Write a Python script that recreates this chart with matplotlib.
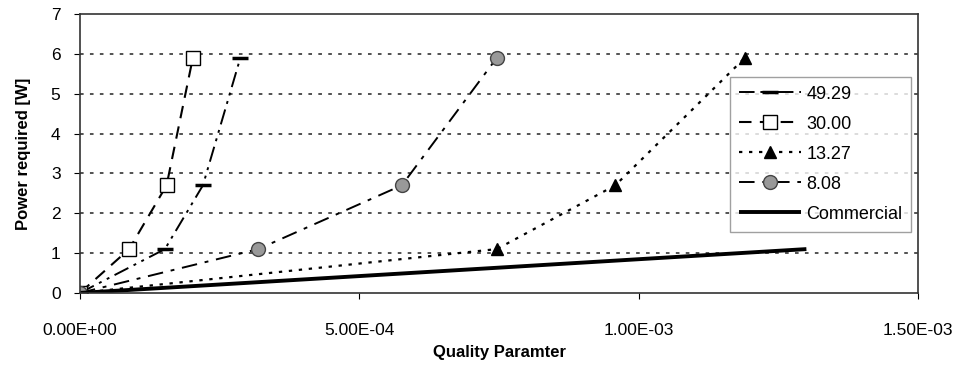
import matplotlib.pyplot as plt

plt.rcParams['font.family'] = ['Liberation Sans', 'DejaVu Sans']

# power curves for each quality setting (x: quality parameter, y: watts)
x_4929 = [0.0, 1.52e-4, 2.20e-4, 2.87e-4]
y_4929 = [0.0, 1.1, 2.7, 5.9]

x_3000 = [0.0, 8.8e-5, 1.55e-4, 2.02e-4]
y_3000 = [0.0, 1.1, 2.7, 5.9]

x_1327 = [0.0, 7.46e-4, 9.58e-4, 1.19e-3]
y_1327 = [0.0, 1.1, 2.7, 5.9]

x_808 = [0.0, 3.19e-4, 5.76e-4, 7.46e-4]
y_808 = [0.0, 1.1, 2.7, 5.9]

x_comm = [0.0, 1.30e-3]
y_comm = [0.0, 1.1]

x_ticks = [0.0, 5e-4, 1e-3, 1.5e-3]
x_ticklabels = ['0.00E+00', '5.00E-04', '1.00E-03', '1.50E-03']

fig = plt.figure(figsize=(9.59, 3.68), dpi=100)
ax = fig.add_axes([0.0834, 0.204, 0.874, 0.758])

for yv in range(1, 7):
    ax.axhline(yv, color='#444444', linestyle=(0, (2, 3.5)), linewidth=1.3, zorder=0)

ax.plot(x_4929, y_4929, color='black', linewidth=1.4,
        linestyle=(0, (8, 3, 1.5, 3, 1.5, 3)),
        marker='_', markersize=12, markeredgewidth=2.5, label='49.29')
ax.plot(x_3000, y_3000, color='black', linewidth=1.5,
        linestyle=(0, (6, 4)),
        marker='s', markersize=10, markerfacecolor='white',
        markeredgecolor='black', markeredgewidth=1.0, label='30.00')
ax.plot(x_1327, y_1327, color='black', linewidth=1.6,
        linestyle=(0, (1.5, 3)),
        marker='^', markersize=8, markerfacecolor='black',
        markeredgecolor='black', label='13.27')
ax.plot(x_808, y_808, color='black', linewidth=1.4,
        linestyle=(0, (8, 4, 2, 4)),
        marker='o', markersize=10, markerfacecolor='#999999',
        markeredgecolor='#444444', markeredgewidth=1.0, label='8.08')
ax.plot(x_comm, y_comm, color='black', linewidth=2.8,
        solid_capstyle='butt', label='Commercial')

ax.set_xlim(0, 1.5e-3)
ax.set_ylim(0, 7)
ax.set_xticks(x_ticks)
ax.set_xticklabels(x_ticklabels)
ax.set_yticks(range(0, 8))
ax.tick_params(axis='both', labelsize=12.5, length=4, direction='out')
ax.tick_params(axis='y', pad=10)
ax.tick_params(axis='x', pad=18)

for s in ax.spines.values():
    s.set_color('#333333')
    s.set_linewidth(1.2)

ax.set_xlabel('Quality Paramter', fontsize=12, fontweight='bold', labelpad=5)
ax.set_ylabel('Power required [W]', fontsize=12, fontweight='bold', labelpad=14)

leg = ax.legend(loc='lower left', bbox_to_anchor=(0.776, 0.219),
                fontsize=13, frameon=True, fancybox=False,
                handlelength=3.4, handletextpad=0.3, labelspacing=0.72,
                borderpad=0.5, borderaxespad=0)
leg.get_frame().set_edgecolor('#888888')
leg.get_frame().set_linewidth(1.0)

fig.savefig('out.png', dpi=100)
